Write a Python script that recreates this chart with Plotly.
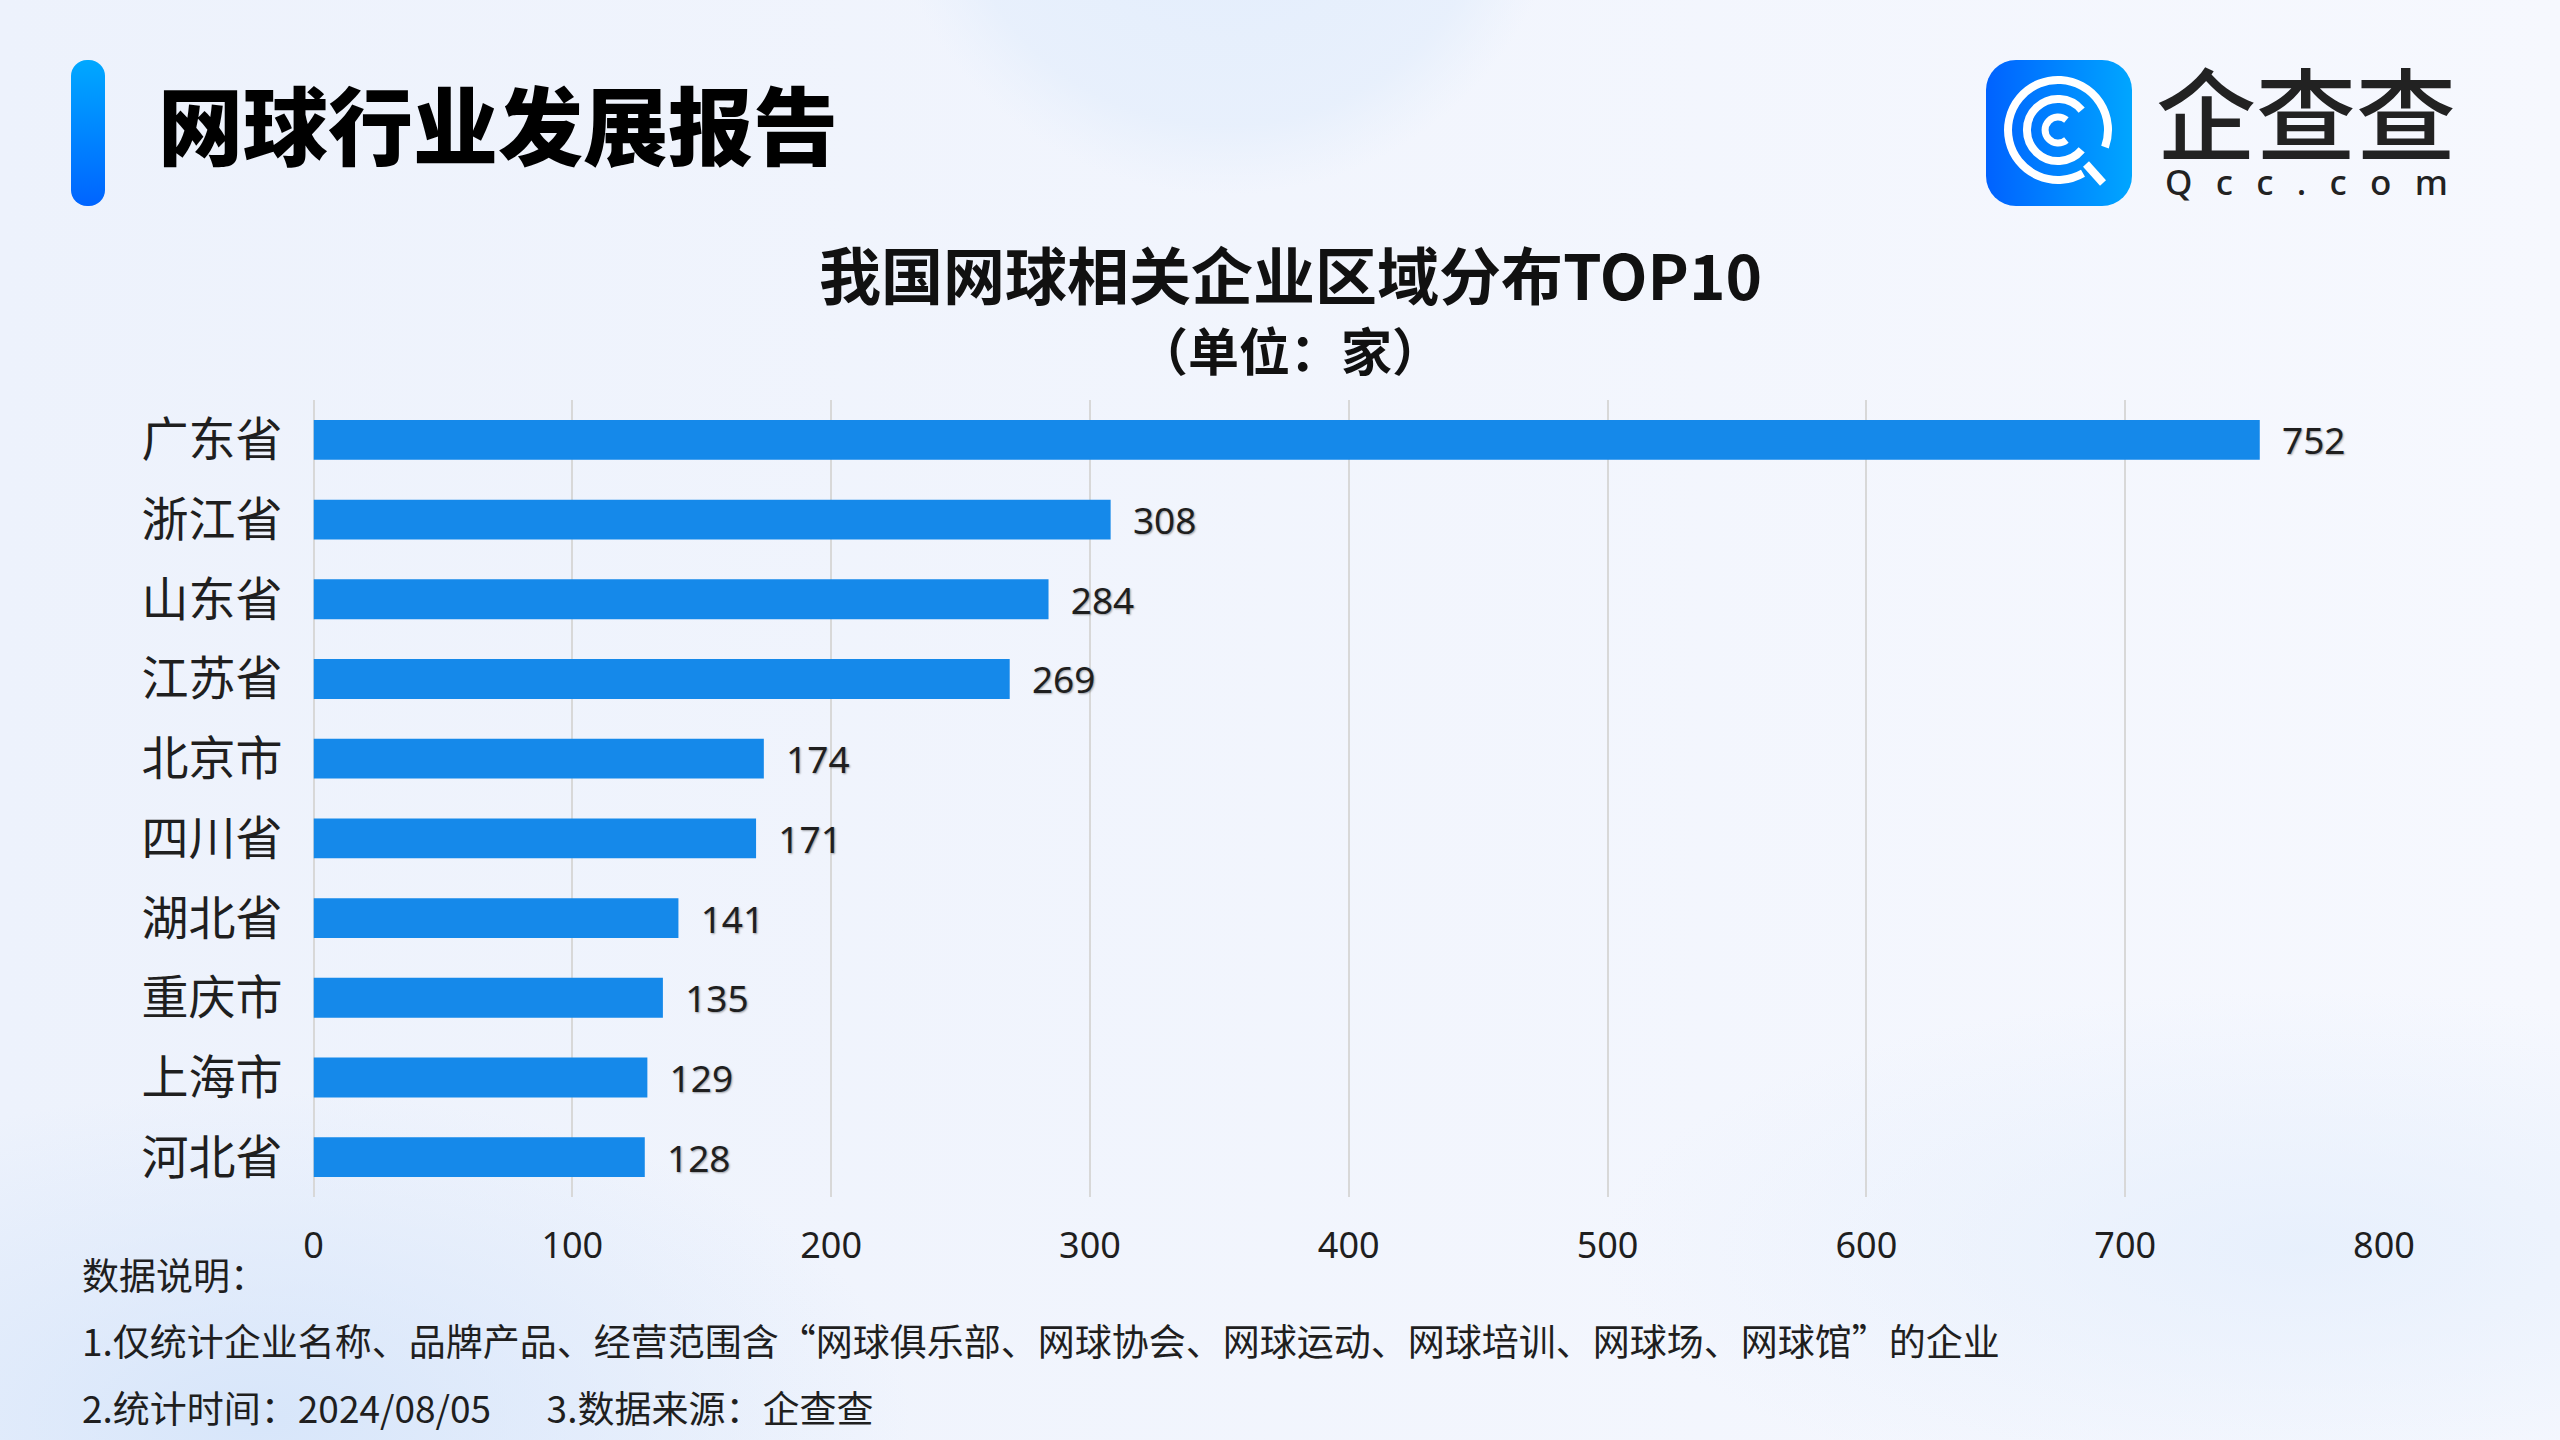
import base64
import plotly.graph_objects as go

# ---------------- data ----------------
categories = ["广东省", "浙江省", "山东省", "江苏省", "北京市",
              "四川省", "湖北省", "重庆市", "上海市", "河北省"]
values = [752, 308, 284, 269, 174, 171, 141, 135, 129, 128]
x_ticks = [0, 100, 200, 300, 400, 500, 600, 700, 800]

header_text = "网球行业发展报告"
chart_title = "我国网球相关企业区域分布TOP10"
chart_unit = "（单位：家）"
note_lines = [
    "数据说明：",
    "1.仅统计企业名称、品牌产品、经营范围含“网球俱乐部、网球协会、网球运动、网球培训、网球场、网球馆”的企业",
    "2.统计时间：2024/08/05\u3000\u20023.数据来源：企查查",
]
logo_cn = "企查查"
logo_en = "Q\u2002\u2009c\u2002\u2009c\u2002\u2009.\u2002\u2009c\u2002\u2009o\u2002\u2009m"

W, H = 2560, 1440


def px(x):
    return x / W


def py(y):
    return 1 - y / H


def svg_uri(svg):
    return "data:image/svg+xml;base64," + base64.b64encode(svg.encode("utf-8")).decode("ascii")


CJK = "Noto Sans CJK SC, Noto Sans, sans-serif"
NUM = "Noto Sans, Noto Sans CJK SC, sans-serif"
TXT = "#1f1f1f"

fig = go.Figure(go.Bar(
    y=categories,
    x=values,
    orientation="h",
    marker=dict(color="#1589ea", line=dict(width=0)),
    text=["\u00a0\u00a0" + str(v) for v in values],
    textposition="outside",
    cliponaxis=False,
    constraintext="none",
    textfont=dict(family=NUM, size=37, color=TXT,
                  shadow="1px 1px 2px rgba(0,0,0,0.35)"),
    hoverinfo="skip",
))

# ---------------- background & decorations (svg images) ----------------
bg_svg = f"""<svg xmlns='http://www.w3.org/2000/svg' width='{W}' height='{H}' viewBox='0 0 {W} {H}'>
<defs>
<linearGradient id='g' x1='0' y1='0' x2='1' y2='0'>
<stop offset='0' stop-color='#edf2fc'/><stop offset='1' stop-color='#f6f8fe'/>
</linearGradient>
<radialGradient id='bl' cx='0.5' cy='0.5' r='0.5'>
<stop offset='0' stop-color='#d6e5fa' stop-opacity='0.95'/><stop offset='1' stop-color='#d6e5fa' stop-opacity='0'/>
</radialGradient>
<radialGradient id='br' cx='0.5' cy='0.5' r='0.5'>
<stop offset='0' stop-color='#e4eefc' stop-opacity='0.8'/><stop offset='1' stop-color='#e4eefc' stop-opacity='0'/>
</radialGradient>
<radialGradient id='tc' cx='0.5' cy='0.5' r='0.5'>
<stop offset='0' stop-color='#e2edfc'/><stop offset='0.8' stop-color='#e6effc' stop-opacity='0.85'/><stop offset='1' stop-color='#e8f0fc' stop-opacity='0'/>
</radialGradient>
</defs>
<rect width='{W}' height='{H}' fill='url(#g)'/>
<ellipse cx='260' cy='1420' rx='650' ry='330' fill='url(#bl)'/>
<ellipse cx='2300' cy='1250' rx='700' ry='260' fill='url(#br)'/>
<circle cx='1225' cy='-150' r='345' fill='url(#tc)'/>
</svg>"""

pill_svg = """<svg xmlns='http://www.w3.org/2000/svg' width='34' height='146' viewBox='0 0 34 146'>
<defs><linearGradient id='a' x1='0' y1='0' x2='0' y2='1'>
<stop offset='0' stop-color='#00a8ff'/><stop offset='1' stop-color='#0064ff'/></linearGradient></defs>
<rect x='0' y='0' width='34' height='146' rx='16' ry='16' fill='url(#a)'/>
</svg>"""

icon_svg = """<svg xmlns='http://www.w3.org/2000/svg' width='146' height='146' viewBox='0 0 146 146'>
<defs><linearGradient id='b' x1='0' y1='0' x2='1' y2='0'>
<stop offset='0' stop-color='#0062ff'/><stop offset='1' stop-color='#00a6ff'/></linearGradient></defs>
<rect x='0' y='0' width='146' height='146' rx='30' ry='30' fill='url(#b)'/>
<g fill='none' stroke='#ffffff' stroke-linecap='butt'>
<path d='M 97 113.3 A 50 50 0 1 1 119 87.1' stroke-width='8'/>
<path d='M 100 104 L 117 123' stroke-width='8'/>
<path d='M 95.7 89.9 A 31 31 0 1 1 95.7 50.1' stroke-width='8'/>
<path d='M 80.4 80 A 13 13 0 1 1 80.4 60' stroke-width='7'/>
</g>
</svg>"""

images = [
    dict(source=svg_uri(bg_svg), xref="paper", yref="paper", x=0, y=1,
         sizex=1, sizey=1, xanchor="left", yanchor="top", sizing="stretch", layer="below"),
    dict(source=svg_uri(pill_svg), xref="paper", yref="paper", x=px(71), y=py(60),
         sizex=34 / W, sizey=146 / H, xanchor="left", yanchor="top", sizing="stretch", layer="above"),
    dict(source=svg_uri(icon_svg), xref="paper", yref="paper", x=px(1986), y=py(60),
         sizex=146 / W, sizey=146 / H, xanchor="left", yanchor="top", sizing="stretch", layer="above"),
]

# ---------------- annotations ----------------
ann = [
    dict(text=header_text, x=px(156), y=py(121), xanchor="left", yanchor="middle",
         font=dict(family=CJK, size=85, color="#000000", weight=900)),
    dict(text=chart_title, x=px(1290), y=py(273), xanchor="center", yanchor="middle",
         font=dict(family=CJK, size=62, color="#111111", weight="bold")),
    dict(text=chart_unit, x=px(1290), y=py(349), xanchor="center", yanchor="middle",
         font=dict(family=CJK, size=51, color="#111111", weight="bold")),
    dict(text=logo_cn, x=px(2306), y=py(110), xanchor="center", yanchor="middle",
         font=dict(family=CJK, size=100, color="#222222", weight=500)),
    dict(text=logo_en, x=px(2306), y=py(181), xanchor="center", yanchor="middle",
         font=dict(family=NUM, size=35, color="#222222", weight=500)),
]
note_y = [1274, 1340, 1407]
for t, yy in zip(note_lines, note_y):
    ann.append(dict(text=t, x=px(80), y=py(yy), xanchor="left", yanchor="middle",
                    font=dict(family=CJK, size=37, color=TXT)))
for a in ann:
    a.update(xref="paper", yref="paper", showarrow=False)

fig.update_layout(
    width=W, height=H, autosize=False,
    margin=dict(l=0, r=0, t=0, b=0, pad=0, autoexpand=False),
    paper_bgcolor="#eff3fc",
    plot_bgcolor="rgba(0,0,0,0)",
    showlegend=False,
    bargap=0.5,
    images=images,
    annotations=ann,
    xaxis=dict(
        domain=[px(313.5), px(2384)],
        range=[0, 800], automargin=False,
        tickmode="array", tickvals=x_ticks, ticktext=[str(v) for v in x_ticks],
        showgrid=True, gridcolor="#d8d8d8", gridwidth=2,
        zeroline=True, zerolinecolor="#d8d8d8", zerolinewidth=2,
        showline=False, ticks="", ticklabelstandoff=24,
        tickfont=dict(family=NUM, size=36, color=TXT),
        fixedrange=True,
    ),
    yaxis=dict(
        domain=[py(1197), py(400)],
        autorange="reversed", automargin=False,
        showgrid=False, zeroline=False, showline=False,
        ticks="", ticklabelstandoff=30,
        tickfont=dict(family=CJK, size=47, color=TXT),
        fixedrange=True,
    ),
)

post = (
    "document.documentElement.style.margin='0';"
    "document.documentElement.style.overflow='hidden';"
    "document.body.style.margin='0';"
    "document.body.style.padding='0';"
    "document.body.style.overflow='hidden';"
)

fig.write_html("out.html", config={"displayModeBar": False, "responsive": False},
               post_script=post)
